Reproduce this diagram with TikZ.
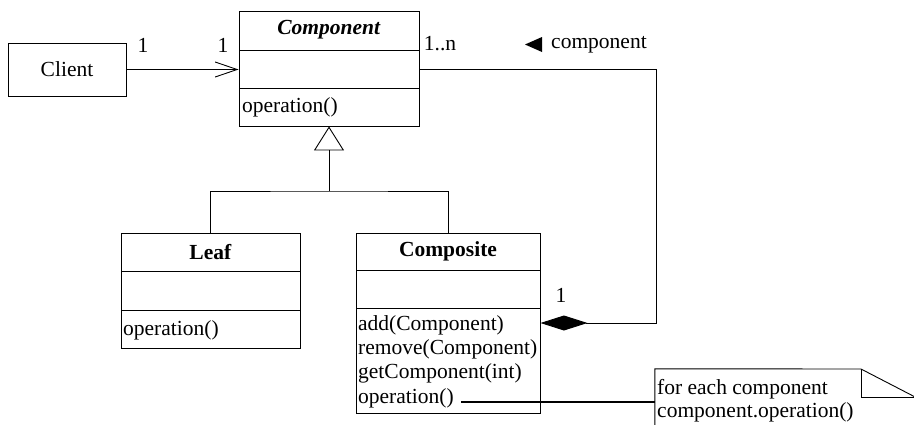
\documentclass[tikz,border=0pt]{standalone}
\usepackage{fontspec}
\setmainfont{Liberation Serif}
\usetikzlibrary{arrows.meta}
\begin{document}
\begin{tikzpicture}[x=1pt,y=-1pt,
  every node/.style={font=\fontsize{21.5}{24}\selectfont, inner sep=0pt},
  umlbox/.style={draw, line width=0.9pt, rectangle},
  divider/.style={line width=0.9pt},
  conn/.style={line width=0.9pt},
  label/.style={anchor=center}]
\useasboundingbox (0,0) rectangle (914,424);
\clip (0,0) rectangle (914,424);

% Client
\node[umlbox, minimum width=118pt, minimum height=53pt] (client) at (67,69.5) {Client};

% Component
\node[umlbox, minimum width=180pt, minimum height=115pt] (comp) at (329,68.5) {};
\draw[divider] (239,50) -- (419,50);
\draw[divider] (239,88) -- (419,88);
\node (compT) at (329,30) {\textbf{\textit{Component}}};
\node[anchor=west] (compOp) at (242,107) {operation()};

% Leaf
\node[umlbox, minimum width=179pt, minimum height=115pt] (leaf) at (210.5,290.5) {};
\draw[divider] (121,271) -- (300,271);
\draw[divider] (121,310) -- (300,310);
\node (leafT) at (210.5,252) {\textbf{Leaf}};
\node[anchor=west] (leafOp) at (123,330) {operation()};

% Composite
\node[umlbox, minimum width=184pt, minimum height=180pt] (compos) at (448,323) {};
\draw[divider] (356,270) -- (540,270);
\draw[divider] (356,308) -- (540,308);
\node (composT) at (448,251) {\textbf{Composite}};
\node[anchor=west] (m1) at (358,325) {add(Component)};
\node[anchor=west] (m2) at (358,349) {remove(Component)};
\node[anchor=west] (m3) at (358,373) {getComponent(int)};
\node[anchor=west] (m4) at (358,398) {operation()};

% Association Client -> Component
\draw[conn, -{Straight Barb[length=22pt,width=15pt,line width=0.9pt]}] (client.east) -- (client.east -| comp.west);
\node (mA) at (143,45) {1};
\node (mB) at (223,45) {1};

% Inheritance
\coordinate (j) at (329,191);
\draw[conn, -{Triangle[open,length=24pt,width=30pt,line width=0.9pt]}] (j) -- (comp.south);
\draw[conn] (leaf.north) |- (j) -| (compos.north);

% Aggregation
\coordinate (r1) at (656,69);
\coordinate (r2) at (656,323);
\draw[conn, -{Diamond[length=47pt,width=15pt]}] (r1 -| comp.east) -- (r1) -- (r2) -- (compos.east);
\node (mC) at (440,44) {1..n};
\node (mD) at (561,295) {1};
\fill (525,44.5) -- (542,37) -- (542,52) -- cycle;
\node[anchor=west] (role) at (551,45) {component};

% Note
\node[minimum width=264pt, minimum height=66pt] (note) at (787,402) {};
\draw[line width=0.9pt] (note.south west) -- (note.north west) -- (861,369) -- (919,399) -- (note.south east);
\draw[line width=0.9pt] (861,369) -- (861,397) -- (919,397);
\node[anchor=west] (n1) at (657,389) {for each component};
\node[anchor=west] (n2) at (657,412) {component.operation()};
\coordinate (ls) at (461,402);
\draw[line width=1.4pt] (ls) -- (note.west);
\end{tikzpicture}
\end{document}
